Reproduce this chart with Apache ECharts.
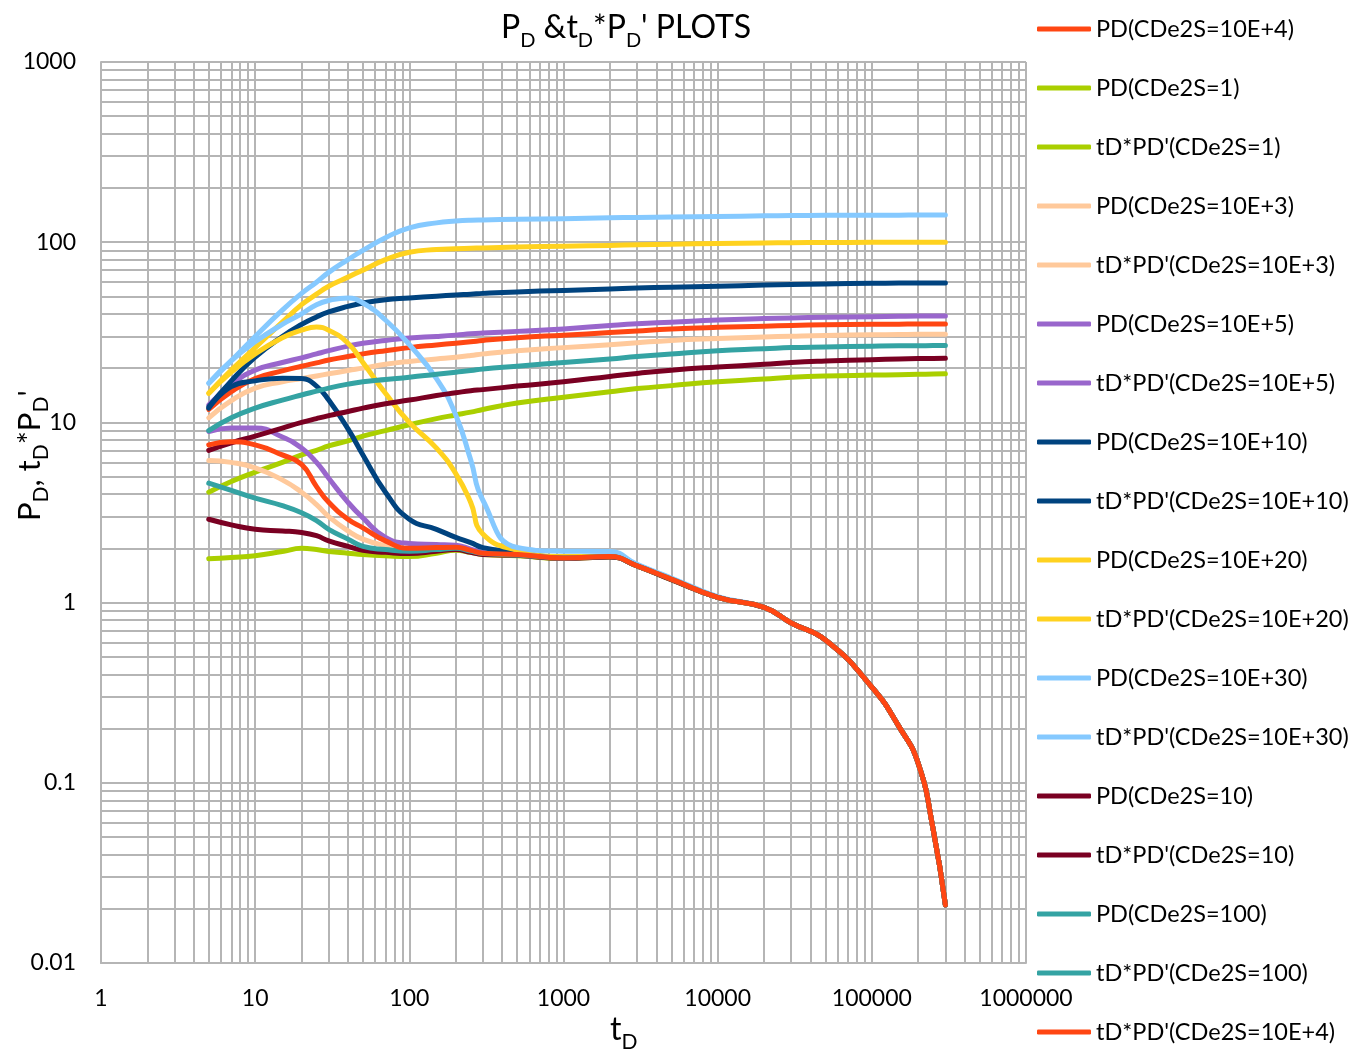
<!DOCTYPE html>
<html>
<head>
<meta charset="utf-8">
<title>PD & tD*PD' plots</title>
<script src="https://cdn.jsdelivr.net/npm/echarts@6/dist/echarts.min.js"></script>
<style>
  html, body { margin: 0; padding: 0; background: #fff; }
  #chart { width: 1368px; height: 1057px; }
</style>
</head>
<body>
<div id="chart"></div>
<script>
// time axis (tD), shared by every curve
const tD = [5, 7, 10, 15, 20, 25, 30, 40, 50, 70, 100, 150, 200, 250, 300, 500, 1000, 2000, 3000, 5000, 10000, 20000, 30000, 50000, 100000, 150000, 200000, 250000, 300000]

// PD curves
const pd1 = [4.1, 4.7, 5.3, 6.0, 6.6, 7.0, 7.4, 7.9, 8.4, 9.0, 9.7, 10.5, 11, 11.4, 11.8, 12.8, 13.8, 14.8, 15.4, 16, 16.8, 17.4, 17.8, 18.1, 18.3, 18.4, 18.5, 18.55, 18.6]
const pd10 = [7.0, 7.7, 8.4, 9.3, 10, 10.5, 10.9, 11.5, 12, 12.7, 13.3, 14.1, 14.6, 15.0, 15.2, 15.9, 16.8, 18, 18.7, 19.5, 20.3, 21, 21.5, 21.9, 22.3, 22.5, 22.6, 22.65, 22.7]
const pd100 = [9.0, 10.6, 12, 13.3, 14.2, 14.9, 15.5, 16.3, 16.8, 17.3, 17.8, 18.5, 19, 19.4, 19.8, 20.5, 21.5, 22.5, 23.2, 24, 25, 25.6, 26, 26.2, 26.5, 26.6, 26.6, 26.7, 26.7]
const pd1e3 = [10.6, 13.2, 15.5, 16.8, 17.5, 18.1, 18.6, 19.4, 20, 21, 21.8, 22.5, 23, 23.5, 24, 25, 26, 27, 27.7, 28.5, 29.2, 29.8, 30.1, 30.4, 30.6, 30.7, 30.8, 30.8, 30.8]
const pd1e4 = [11.8, 14.8, 17.5, 19.3, 20.5, 21.4, 22.2, 23.2, 24, 25, 26, 26.9, 27.5, 28, 28.5, 29.5, 30.5, 31.5, 32.2, 33, 33.7, 34.2, 34.5, 34.8, 35, 35.1, 35.2, 35.2, 35.2]
const pd1e5 = [12.5, 16.2, 19.5, 21.5, 22.8, 24, 25, 26.5, 27.5, 28.5, 29.4, 30, 30.5, 31, 31.3, 32, 33, 34.5, 35.3, 36, 37, 37.7, 38, 38.3, 38.6, 38.8, 38.9, 38.9, 38.9]
const pd1e10 = [12.2, 17, 23, 30, 35, 38.5, 41, 44, 46, 48, 49, 50.2, 51, 51.5, 52, 53, 54, 55, 55.7, 56.3, 57, 57.8, 58.2, 58.7, 59.1, 59.3, 59.4, 59.4, 59.4]
const pd1e20 = [14.5, 19.5, 26, 36, 45, 51.5, 57, 64, 70, 80, 88, 91, 92, 92.5, 93, 94, 95, 96, 96.8, 97.5, 98.3, 99, 99.3, 99.6, 99.8, 99.9, 100, 100, 100]
const pd1e30 = [16.5, 22, 30, 42, 52, 60, 68, 80, 90, 106, 120, 128, 131, 132.5, 133, 134, 135, 136.5, 137.3, 138, 139, 140, 140.5, 141, 141.2, 141.3, 141.4, 141.5, 141.5]

// tD*PD' curves
const dpd1 = [1.75, 1.78, 1.82, 1.92, 2.0, 1.97, 1.92, 1.88, 1.85, 1.82, 1.8, 1.88, 1.95, 1.9, 1.85, 1.82, 1.76, 1.79, 1.6, 1.34, 1.07, 0.94, 0.77, 0.62, 0.34, 0.205, 0.128, 0.055, 0.021]
const dpd10 = [2.9, 2.7, 2.55, 2.5, 2.45, 2.35, 2.2, 2.05, 1.95, 1.9, 1.87, 1.93, 1.97, 1.9, 1.85, 1.83, 1.76, 1.79, 1.6, 1.34, 1.07, 0.94, 0.77, 0.62, 0.34, 0.205, 0.128, 0.055, 0.021]
const dpd100 = [4.6, 4.2, 3.8, 3.45, 3.15, 2.85, 2.55, 2.25, 2.05, 1.97, 1.93, 1.97, 2.0, 1.93, 1.87, 1.84, 1.77, 1.8, 1.6, 1.35, 1.07, 0.94, 0.77, 0.62, 0.34, 0.205, 0.128, 0.055, 0.021]
const dpd1e3 = [6.15, 6.0, 5.6, 4.8, 4.1, 3.5, 3.0, 2.5, 2.25, 2.07, 1.98, 2.0, 2.02, 1.94, 1.87, 1.84, 1.77, 1.8, 1.6, 1.35, 1.07, 0.94, 0.77, 0.62, 0.34, 0.205, 0.128, 0.055, 0.021]
const dpd1e4 = [7.5, 7.8, 7.5, 6.6, 5.85, 4.4, 3.6, 2.9, 2.6, 2.2, 2.0, 2.02, 2.03, 1.95, 1.88, 1.85, 1.77, 1.8, 1.6, 1.35, 1.07, 0.94, 0.77, 0.62, 0.34, 0.205, 0.128, 0.055, 0.021]
const dpd1e5 = [8.9, 9.3, 9.3, 8.3, 7.2, 6.0, 4.9, 3.6, 2.95, 2.3, 2.13, 2.1, 2.08, 1.98, 1.9, 1.85, 1.77, 1.8, 1.6, 1.35, 1.07, 0.94, 0.77, 0.62, 0.34, 0.205, 0.128, 0.055, 0.021]
const dpd1e10 = [12, 15.8, 17, 17.6, 17.5, 15.9, 13.3, 9.2, 6.6, 4.1, 2.9, 2.55, 2.3, 2.15, 2.02, 1.9, 1.78, 1.8, 1.6, 1.35, 1.07, 0.94, 0.77, 0.62, 0.34, 0.205, 0.128, 0.055, 0.021]
const dpd1e20 = [14.5, 19, 24, 29.5, 32.5, 33.8, 32.5, 27.5, 21.5, 14.5, 10, 7.2, 5.2, 3.6, 2.4, 1.95, 1.8, 1.81, 1.6, 1.35, 1.07, 0.94, 0.77, 0.62, 0.34, 0.205, 0.128, 0.055, 0.021]
const dpd1e30 = [16.5, 22, 28, 35, 40, 45, 47.5, 49, 46, 37, 27, 17.5, 11, 6.2, 3.7, 2.02, 1.93, 1.92, 1.63, 1.37, 1.08, 0.94, 0.77, 0.62, 0.34, 0.205, 0.128, 0.055, 0.021]

const xTickLabels = ['1', '10', '100', '1000', '10000', '100000', '1000000']
const yTickLabels = ['0.01', '0.1', '1', '10', '100', '1000']

const C_ORANGE = '#FF4612'
const C_GREEN = '#AACF00'
const C_PEACH = '#FFC99B'
const C_PURPLE = '#9966CC'
const C_NAVY = '#00437F'
const C_YELLOW = '#FFD21F'
const C_SKY = '#85C9FF'
const C_WINE = '#7A0022'
const C_TEAL = '#34A3A3'

// legend order = drawing order
const curves = [
  ['PD(CDe2S=10E+4)', pd1e4, C_ORANGE],
  ['PD(CDe2S=1)', pd1, C_GREEN],
  ["tD*PD'(CDe2S=1)", dpd1, C_GREEN],
  ['PD(CDe2S=10E+3)', pd1e3, C_PEACH],
  ["tD*PD'(CDe2S=10E+3)", dpd1e3, C_PEACH],
  ['PD(CDe2S=10E+5)', pd1e5, C_PURPLE],
  ["tD*PD'(CDe2S=10E+5)", dpd1e5, C_PURPLE],
  ['PD(CDe2S=10E+10)', pd1e10, C_NAVY],
  ["tD*PD'(CDe2S=10E+10)", dpd1e10, C_NAVY],
  ['PD(CDe2S=10E+20)', pd1e20, C_YELLOW],
  ["tD*PD'(CDe2S=10E+20)", dpd1e20, C_YELLOW],
  ['PD(CDe2S=10E+30)', pd1e30, C_SKY],
  ["tD*PD'(CDe2S=10E+30)", dpd1e30, C_SKY],
  ['PD(CDe2S=10)', pd10, C_WINE],
  ["tD*PD'(CDe2S=10)", dpd10, C_WINE],
  ['PD(CDe2S=100)', pd100, C_TEAL],
  ["tD*PD'(CDe2S=100)", dpd100, C_TEAL],
  ["tD*PD'(CDe2S=10E+4)", dpd1e4, C_ORANGE]
]

const FONT = 'Lato'
const GRID_COLOR = '#B5B5B5'

// minor log grid lines (2..9 in every decade)
const minorX = []
for (let d = 1; d < 1000000; d *= 10) {
  for (let m = 2; m <= 9; m++) minorX.push(+(d * m).toPrecision(6))
}
const minorY = []
for (let d = 0.01; d < 999; d *= 10) {
  for (let m = 2; m <= 9; m++) minorY.push(+(d * m).toPrecision(6))
}

const series = curves.map(([name, vals, color]) => ({
  name: name,
  type: 'line',
  data: tD.map((t, i) => [t, vals[i]]),
  smooth: 0.5,
  symbol: 'none',
  z: 3,
  lineStyle: { color: color, width: 5, cap: 'round', join: 'round' },
  itemStyle: { color: color }
}))

// dummy series carrying the minor grid
series.unshift({
  name: 'minor-grid',
  type: 'line',
  data: [],
  z: 1,
  silent: true,
  markLine: {
    z: 1,
    silent: true,
    animation: false,
    symbol: ['none', 'none'],
    label: { show: false },
    lineStyle: { type: 'solid', color: GRID_COLOR, width: 2 },
    data: minorX.map((v) => ({ xAxis: v })).concat(minorY.map((v) => ({ yAxis: v })))
  }
})

const fmt = (v) => String(+v.toPrecision(6))

const option = {
  animation: false,
  backgroundColor: '#fff',
  textStyle: { fontFamily: FONT },
  title: {
    left: 496,
    top: 0,
    text: '{m|P}{s|D}{m| &t}{s|D}{m|*P}{s|D}{m|\' PLOTS}',
    textStyle: {
      rich: {
        m: { fontFamily: FONT, fontSize: 32, fontWeight: 'normal', color: '#000', lineHeight: 46, verticalAlign: 'middle' },
        s: { fontFamily: FONT, fontSize: 20, fontWeight: 'normal', color: '#000', lineHeight: 20, verticalAlign: 'bottom' }
      }
    }
  },
  legend: {
    orient: 'vertical',
    left: 1032,
    top: 12,
    icon: 'roundRect',
    itemWidth: 54,
    itemHeight: 5,
    itemGap: 35,
    data: curves.map((c) => c[0]),
    textStyle: { fontFamily: FONT, fontSize: 23.5, color: '#000', lineHeight: 24 }
  },
  grid: { left: 101, top: 62, right: 342, bottom: 94, containLabel: false },
  xAxis: {
    type: 'log',
    logBase: 10,
    min: 1,
    max: 1000000,
    axisLine: { show: true, lineStyle: { color: GRID_COLOR, width: 2 } },
    axisTick: { show: false },
    splitLine: { show: true, lineStyle: { color: GRID_COLOR, width: 2 } },
    axisLabel: {
      margin: 24,
      fontFamily: FONT,
      fontSize: 23,
      color: '#000',
      formatter: (v) => (xTickLabels.includes(fmt(v)) ? fmt(v) : '')
    }
  },
  yAxis: {
    type: 'log',
    logBase: 10,
    min: 0.01,
    max: 1000,
    axisLine: { show: true, lineStyle: { color: GRID_COLOR, width: 2 } },
    axisTick: { show: false },
    splitLine: { show: true, lineStyle: { color: GRID_COLOR, width: 2 } },
    axisLabel: {
      margin: 25,
      fontFamily: FONT,
      fontSize: 23,
      color: '#000',
      formatter: (v) => (yTickLabels.includes(fmt(v)) ? fmt(v) : '')
    }
  },
  graphic: [
    {
      type: 'text',
      left: 610,
      top: 1014,
      style: {
        text: '{m|t}{s|D}',
        rich: {
          m: { fontFamily: FONT, fontSize: 32, fill: '#000', lineHeight: 46, verticalAlign: 'middle' },
          s: { fontFamily: FONT, fontSize: 21, fill: '#000', lineHeight: 21, verticalAlign: 'bottom' }
        }
      }
    },
    {
      type: 'text',
      x: 8,
      y: 521,
      rotation: Math.PI / 2,
      style: {
        text: '{m|P}{s|D}{m|, t}{s|D}{m|*P}{s|D}{m|\'}',
        rich: {
          m: { fontFamily: FONT, fontSize: 31, fill: '#000', lineHeight: 44, verticalAlign: 'middle' },
          s: { fontFamily: FONT, fontSize: 21, fill: '#000', lineHeight: 21, verticalAlign: 'bottom' }
        }
      }
    }
  ],
  series: series
}

const chart = echarts.init(document.getElementById('chart'), null, { renderer: 'canvas' })
chart.setOption(option)
</script>
</body>
</html>
